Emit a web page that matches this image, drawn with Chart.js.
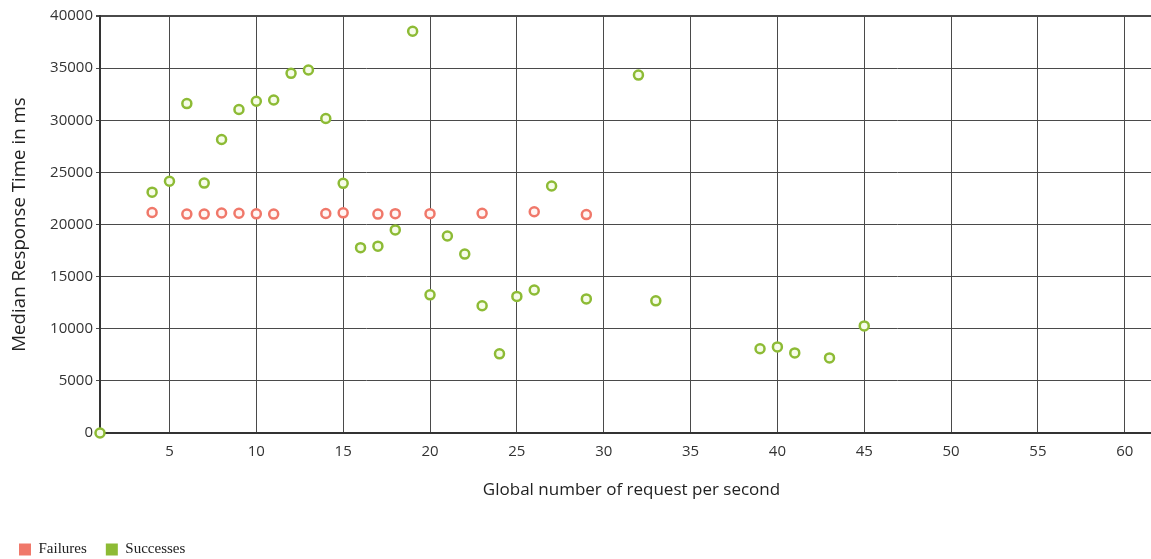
<!DOCTYPE html>
<html>
<head>
<meta charset="utf-8">
<script src="https://cdn.jsdelivr.net/npm/chart.js@4.4.1/dist/chart.umd.min.js"></script>
<style>
  html, body { margin: 0; padding: 0; background: #ffffff; overflow: hidden; }
  #wrap { width: 1170px; height: 559px; position: relative; }
</style>
</head>
<body>
<div id="wrap"><canvas id="c"></canvas></div>
<script>
// Data
const seriesNames = ["Failures", "Successes"];
const failureX = [4, 6, 7, 8, 9, 10, 11, 14, 15, 17, 18, 20, 23, 26, 29];
const failureY = [21150, 21000, 21000, 21100, 21080, 21020, 21000, 21050, 21120, 21000, 21040, 21040, 21070, 21220, 20950];
const successX = [1, 4, 5, 6, 7, 8, 9, 10, 11, 12, 13, 14, 15, 16, 17, 18, 19, 20, 21, 22, 23, 24, 25, 26, 27, 29, 32, 33, 39, 40, 41, 43, 45];
const successY = [0, 23100, 24150, 31600, 23970, 28150, 31030, 31820, 31940, 34500, 34820, 30170, 23950, 17780, 17920, 19480, 38540, 13250, 18900, 17160, 12210, 7590, 13100, 13720, 23690, 12860, 34330, 12680, 8080, 8260, 7680, 7200, 10270];
const xTicks = [5, 10, 15, 20, 25, 30, 35, 40, 45, 50, 55, 60];
const yTicks = [0, 5000, 10000, 15000, 20000, 25000, 30000, 35000, 40000];
const xTitle = "Global number of request per second";
const yTitle = "Median Response Time in ms";

const toPoints = (xs, ys) => xs.map((x, i) => ({ x: x, y: ys[i] }));

const sansFont = "'Open Sans', 'DejaVu Sans', sans-serif";

new Chart(document.getElementById('c'), {
  type: 'scatter',
  data: {
    datasets: [
      {
        label: seriesNames[0],
        data: toPoints(failureX, failureY),
        pointRadius: 4.5,
        pointHoverRadius: 4.5,
        borderWidth: 2.5,
        borderColor: '#f0786a',
        backgroundColor: '#fff6f4',
        pointStyle: 'circle',
        clip: false
      },
      {
        label: seriesNames[1],
        data: toPoints(successX, successY),
        pointRadius: 4.5,
        pointHoverRadius: 4.5,
        borderWidth: 2.5,
        borderColor: '#8dbb35',
        backgroundColor: '#f6fce8',
        pointStyle: 'circle',
        clip: false
      }
    ]
  },
  options: {
    responsive: true,
    maintainAspectRatio: false,
    animation: false,
    devicePixelRatio: 1,
    layout: { padding: { top: 16, right: 0, left: 0, bottom: -8 } },
    plugins: {
      tooltip: { enabled: false },
      legend: {
        position: 'bottom',
        align: 'start',
        labels: {
          generateLabels: (chart) => chart.data.datasets.map((ds, i) => ({
            text: ds.label,
            fillStyle: ds.borderColor,
            strokeStyle: ds.borderColor,
            lineWidth: 0,
            hidden: false,
            datasetIndex: i,
            fontColor: '#222'
          })),
          boxWidth: 12,
          boxHeight: 12,
          padding: 19,
          color: '#222',
          font: { family: "'Liberation Serif', 'Times New Roman', serif", size: 15 }
        }
      }
    },
    scales: {
      x: {
        type: 'linear',
        min: 1,
        max: 62.2,
        afterBuildTicks: (scale) => { scale.ticks = xTicks.map(v => ({ value: v })); },
        afterFit: (scale) => { scale.height = 90; scale.paddingLeft = 0; scale.paddingRight = 0; },
        grid: {
          color: '#4a4a4a',
          lineWidth: 1,
          drawTicks: false
        },
        border: { color: '#333', width: 2 },
        ticks: {
          padding: 10,
          color: '#333',
          font: { family: sansFont, size: 15 },
          maxRotation: 0,
          autoSkip: false,
          callback: (v) => String(v)
        },
        title: {
          display: true,
          text: xTitle,
          color: '#222',
          font: { family: sansFont, size: 17 },
          padding: { top: 0, bottom: 23 }
        }
      },
      y: {
        type: 'linear',
        min: 0,
        max: 40000,
        afterBuildTicks: (scale) => { scale.ticks = yTicks.map(v => ({ value: v })); },
        afterFit: (scale) => { scale.width = 100; scale.paddingTop = 0; scale.paddingBottom = 0; },
        grid: {
          color: '#4a4a4a',
          lineWidth: (ctx) => (ctx.tick && ctx.tick.value === 40000 ? 2 : 1),
          drawTicks: true,
          tickLength: 4
        },
        border: { color: '#333', width: 2 },
        ticks: {
          padding: 3,
          color: '#333',
          font: { family: sansFont, size: 15 },
          autoSkip: false,
          callback: (v) => String(v)
        },
        title: {
          display: true,
          text: yTitle,
          color: '#222',
          font: { family: sansFont, size: 18.7 },
          padding: { top: 8, bottom: 8 }
        }
      }
    }
  }
});
</script>
</body>
</html>
